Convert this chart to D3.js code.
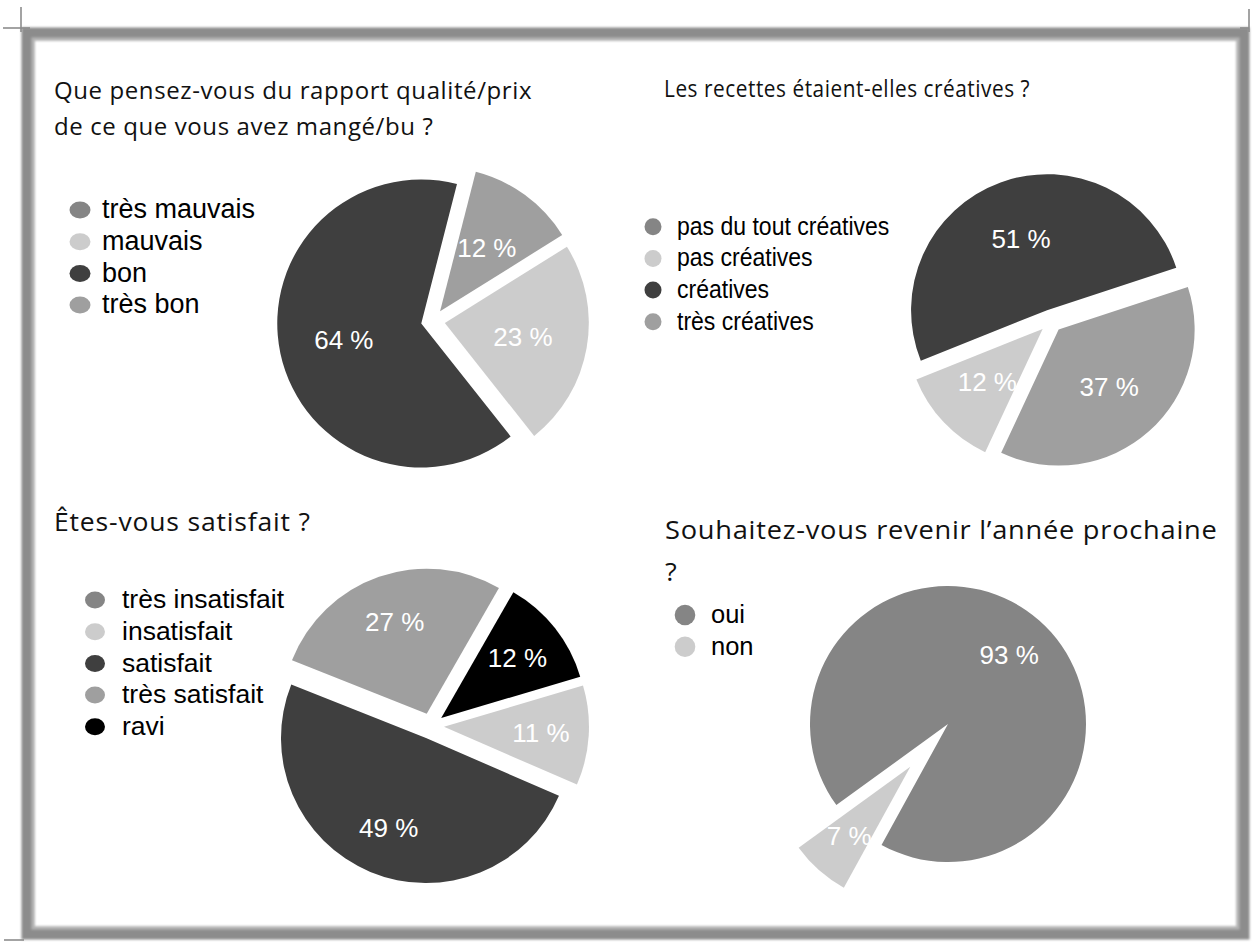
<!DOCTYPE html>
<html>
<head>
<meta charset="utf-8">
<script src="https://cdn.jsdelivr.net/npm/d3@7"></script>
<style>
  html, body { margin: 0; padding: 0; background: #ffffff; }
  svg { display: block; }
</style>
</head>
<body>
<svg id="chart" width="1254" height="942"></svg>
<script>
// ---- Survey answers (percent of respondents) ----
const q1Title = ["Que pensez-vous du rapport qualité/prix", "de ce que vous avez mangé/bu ?"];
const q1Categories = ["très mauvais", "mauvais", "bon", "très bon"];
const q1Values = [0, 23, 64, 12];

const q2Title = ["Les recettes étaient-elles créatives ?"];
const q2Categories = ["pas du tout créatives", "pas créatives", "créatives", "très créatives"];
const q2Values = [0, 12, 51, 37];

const q3Title = ["Êtes-vous satisfait ?"];
const q3Categories = ["très insatisfait", "insatisfait", "satisfait", "très satisfait", "ravi"];
const q3Values = [0, 11, 49, 27, 12];

const q4Title = ["Souhaitez-vous revenir l’année prochaine", "?"];
const q4Categories = ["oui", "non"];
const q4Values = [93, 7];

// Grey palette shared by every pie (one tone per answer position)
const greys = ["#858585", "#cccccc", "#3f3f3f", "#9f9f9f", "#000000"];

const svg = d3.select("#chart");

// ---- Frame ----
const defs = svg.append("defs");
defs.append("filter").attr("id", "soft")
  .append("feGaussianBlur").attr("stdDeviation", 1.1);

const frame = svg.append("g").attr("filter", "url(#soft)");
frame.append("rect")
  .attr("x", 28).attr("y", 34).attr("width", 1215).attr("height", 899)
  .attr("fill", "none").attr("stroke", "#8c8c8c").attr("stroke-width", 13);
frame.append("rect")
  .attr("x", 33).attr("y", 39).attr("width", 1205).attr("height", 889)
  .attr("fill", "none").attr("stroke", "#b4b4b4").attr("stroke-width", 3);
// overshooting sketch strokes at the corners
const strokes = [
  [3, 28, 30, 28], [21, 7, 21, 32], [1240, 28, 1249, 28], [1249, 9, 1249, 32], [4, 940, 24, 940]
];
svg.append("g").selectAll("line").data(strokes).join("line")
  .attr("x1", d => d[0]).attr("y1", d => d[1]).attr("x2", d => d[2]).attr("y2", d => d[3])
  .attr("stroke", "#8c8c8c").attr("stroke-width", 1.6);

// ---- One panel: title, legend and exploded pie ----
function panel(cfg) {
  const g = svg.append("g");

  // title
  g.append("g").selectAll("text").data(cfg.title).join("text")
    .attr("transform", (d, i) =>
      `translate(${cfg.titleX},${cfg.titleY + i * cfg.titleStep}) scale(${cfg.titleScaleX},1)`)
    .attr("font-family", "'Open Sans', sans-serif")
    .attr("font-size", cfg.titleSize)
    .attr("letter-spacing", cfg.titleSpacing)
    .attr("fill", "#111")
    .text(d => d);

  // legend
  const color = d3.scaleOrdinal().domain(cfg.categories).range(greys);
  const ly = d3.scalePoint().domain(cfg.categories)
    .range([cfg.legendY, cfg.legendY + cfg.legendStep * (cfg.categories.length - 1)]);
  const leg = g.append("g").selectAll("g").data(cfg.categories).join("g");
  leg.append("ellipse")
    .attr("cx", cfg.dotX).attr("cy", d => ly(d))
    .attr("rx", cfg.dotRx).attr("ry", cfg.dotRy)
    .attr("fill", d => color(d));
  leg.append("text")
    .attr("transform", d =>
      `translate(${cfg.textX},${ly(d) + cfg.legendSize * 0.31}) scale(${cfg.legendScaleX},1)`)
    .attr("font-family", "'Liberation Sans', Arial, sans-serif")
    .attr("font-size", cfg.legendSize)
    .attr("fill", "#000")
    .text(d => d);

  // pie
  const rows = cfg.categories.map((c, i) => ({ cat: c, value: cfg.values[i], explode: cfg.explode[i] }));
  const start = cfg.startDeg * Math.PI / 180;
  const pie = d3.pie().sort(null).value(d => d.value)
    .startAngle(start).endAngle(start + 2 * Math.PI);
  const arcs = pie(rows).filter(d => d.data.value > 0);
  const arc = d3.arc().innerRadius(0).outerRadius(cfg.radius);
  const labelArc = d3.arc().innerRadius(cfg.radius * cfg.labelRatio).outerRadius(cfg.radius * cfg.labelRatio);

  const pg = g.append("g").attr("transform", `translate(${cfg.cx},${cfg.cy})`);
  const slice = pg.selectAll("g").data(arcs).join("g")
    .attr("transform", d => {
      const mid = (d.startAngle + d.endAngle) / 2;
      const e = d.data.explode;
      return `translate(${Math.sin(mid) * e},${-Math.cos(mid) * e})`;
    });
  slice.append("path").attr("d", arc).attr("fill", d => color(d.data.cat));
  slice.append("text")
    .attr("transform", d => `translate(${labelArc.centroid(d)})`)
    .attr("text-anchor", "middle")
    .attr("dy", "0.36em")
    .attr("font-family", "'Liberation Sans', Arial, sans-serif")
    .attr("font-size", 26)
    .attr("fill", "#ffffff")
    .text(d => `${d.data.value} %`);
}

panel({
  title: q1Title, titleX: 54, titleY: 99, titleStep: 36, titleSize: 24, titleSpacing: 0.6, titleScaleX: 1,
  categories: q1Categories, values: q1Values, explode: [12, 12, 12, 12],
  dotX: 80, dotRx: 10.5, dotRy: 8.5, textX: 102, legendY: 210, legendStep: 31.7,
  legendSize: 27, legendScaleX: 1,
  cx: 433, cy: 321, radius: 144, startDeg: 58, labelRatio: 0.55
});

panel({
  title: q2Title, titleX: 664, titleY: 97, titleStep: 36, titleSize: 24, titleSpacing: 0.6, titleScaleX: 0.868,
  categories: q2Categories, values: q2Values, explode: [11.5, 11.5, 11.5, 11.5],
  dotX: 653, dotRx: 8.5, dotRy: 8.5, textX: 677, legendY: 226.7, legendStep: 31.7,
  legendSize: 26, legendScaleX: 0.885,
  cx: 1051, cy: 321, radius: 136, startDeg: 205, labelRatio: 0.56
});

panel({
  title: q3Title, titleX: 54, titleY: 531, titleStep: 36, titleSize: 25.5, titleSpacing: 0.8, titleScaleX: 1.04,
  categories: q3Categories, values: q3Values, explode: [13, 13, 13, 13, 13],
  dotX: 95, dotRx: 10, dotRy: 8.5, textX: 122, legendY: 600, legendStep: 31.7,
  legendSize: 26.5, legendScaleX: 1,
  cx: 431, cy: 726, radius: 145, startDeg: 73.5, labelRatio: 0.67
});

panel({
  title: q4Title, titleX: 665, titleY: 539, titleStep: 42, titleSize: 25.5, titleSpacing: 0.7, titleScaleX: 1.068,
  categories: q4Categories, values: q4Values, explode: [0, 57],
  dotX: 685, dotRx: 10.3, dotRy: 10.3, textX: 711, legendY: 615, legendStep: 31.7,
  legendSize: 25.5, legendScaleX: 1,
  cx: 948, cy: 724, radius: 138, startDeg: 234, labelRatio: 0.67
});
</script>
</body>
</html>
